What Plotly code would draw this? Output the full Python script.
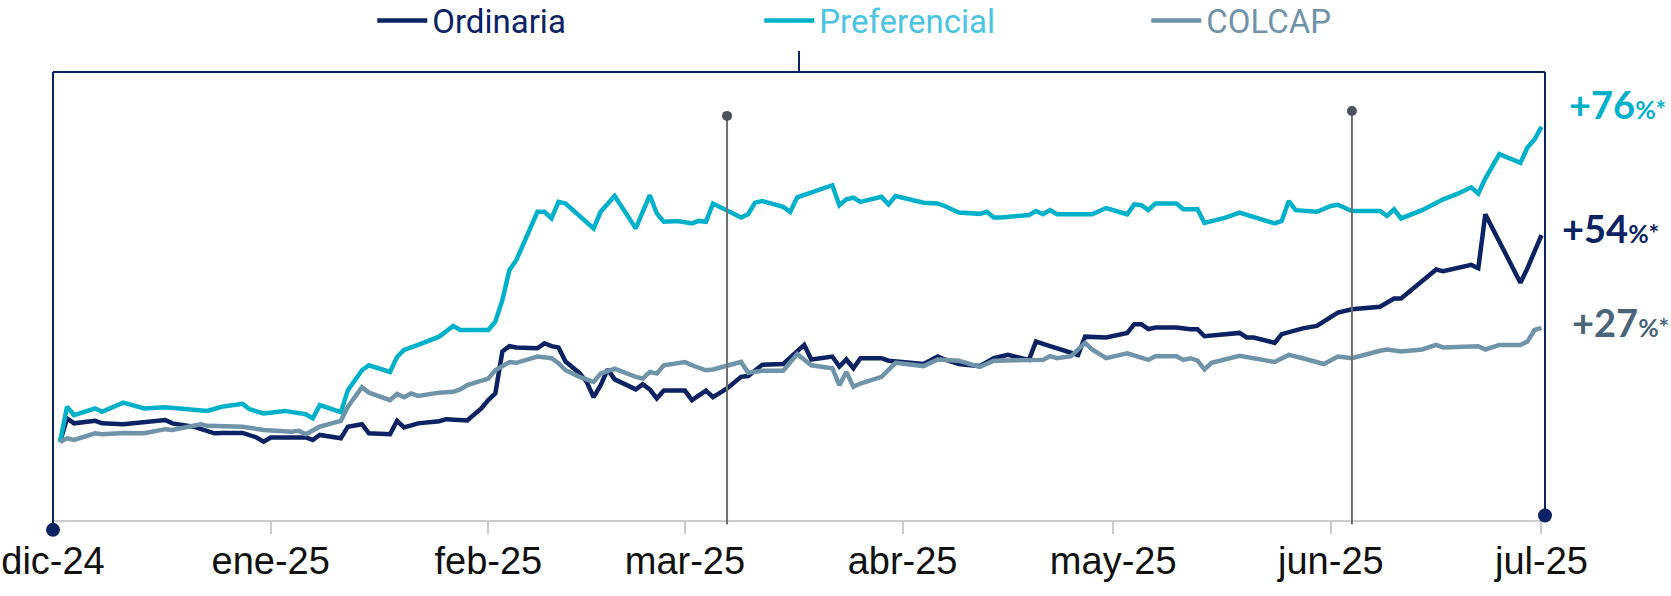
import plotly.graph_objects as go

# --- data (percent change since start) ---
pref_dates = [
    "2024-12-02", "2024-12-03", "2024-12-04", "2024-12-07", "2024-12-08", "2024-12-11", "2024-12-14",
    "2024-12-17", "2024-12-23", "2024-12-25", "2024-12-28", "2024-12-29", "2024-12-31",
    "2025-01-03", "2025-01-06", "2025-01-07", "2025-01-08", "2025-01-11", "2025-01-12", "2025-01-14",
    "2025-01-15", "2025-01-18", "2025-01-19", "2025-01-20", "2025-01-22", "2025-01-25", "2025-01-27",
    "2025-01-28",
    "2025-02-01", "2025-02-02", "2025-02-03", "2025-02-04", "2025-02-05", "2025-02-08", "2025-02-09",
    "2025-02-10", "2025-02-11", "2025-02-12", "2025-02-16", "2025-02-17", "2025-02-19", "2025-02-22",
    "2025-02-24", "2025-02-25", "2025-02-26", "2025-02-28",
    "2025-03-02", "2025-03-03", "2025-03-04", "2025-03-05", "2025-03-09", "2025-03-10", "2025-03-11",
    "2025-03-12", "2025-03-15", "2025-03-16", "2025-03-17", "2025-03-22", "2025-03-23", "2025-03-24",
    "2025-03-25", "2025-03-26", "2025-03-29", "2025-03-30", "2025-03-31",
    "2025-04-04", "2025-04-06", "2025-04-07", "2025-04-09", "2025-04-12", "2025-04-13", "2025-04-14",
    "2025-04-15", "2025-04-19", "2025-04-20", "2025-04-21", "2025-04-22", "2025-04-23", "2025-04-28",
    "2025-04-30",
    "2025-05-03", "2025-05-04", "2025-05-05", "2025-05-06", "2025-05-07", "2025-05-10", "2025-05-11",
    "2025-05-13", "2025-05-14", "2025-05-17", "2025-05-19", "2025-05-24", "2025-05-25", "2025-05-26",
    "2025-05-27", "2025-05-30",
    "2025-06-01", "2025-06-02", "2025-06-04", "2025-06-08", "2025-06-09", "2025-06-10", "2025-06-11",
    "2025-06-14", "2025-06-17", "2025-06-18", "2025-06-19", "2025-06-21", "2025-06-22", "2025-06-23",
    "2025-06-25", "2025-06-28", "2025-06-29", "2025-06-30",
    "2025-07-01",
]
pref_vals = [
    0, 8.5, 6.5, 8.1, 7.3, 9.5, 8.1, 8.4, 7.5, 8.5, 9.2, 7.9, 6.9,
    7.5, 6.7, 5.7, 8.9, 7.2, 12.5, 17.3, 18.5, 16.9, 20.5, 22.2, 23.4, 25.4, 28, 27,
    27, 29, 34.2, 41.4, 43.9, 55.5, 55.5, 53.9, 57.9, 57.5, 51.5, 55.5, 59.3, 51.5, 59.5, 55.1, 53.1, 53.3,
    52.7, 53.3, 53.1, 57.5, 54.1, 54.9, 57.7, 58.1, 56.7, 55.5, 59, 61.9, 57.1, 58.5, 58.9, 57.9, 59.1, 57.3, 59.3,
    57.7, 57.5, 56.9, 55.3, 55, 55.5, 54.1, 54.1, 54.7, 55.7, 54.9, 55.9, 54.9, 54.9, 56.4,
    54.9, 57.3, 57.1, 55.9, 57.5, 57.5, 56.1, 56.1, 52.8, 54.1, 55.3, 52.7, 53.3, 58.1, 55.9, 55.5,
    56.9, 57.2, 55.7, 55.7, 54.5, 56.1, 53.9, 55.9, 58.5, 59.1, 59.8, 61.4, 59.9, 63.5, 69.4, 67.3, 71, 72.9,
    76,
]

ord_dates = [
    "2024-12-02", "2024-12-03", "2024-12-04", "2024-12-07", "2024-12-08", "2024-12-11", "2024-12-17",
    "2024-12-18", "2024-12-21", "2024-12-23", "2024-12-24", "2024-12-25", "2024-12-28", "2024-12-30",
    "2024-12-31",
    "2025-01-01", "2025-01-06", "2025-01-07", "2025-01-08", "2025-01-11", "2025-01-12", "2025-01-14",
    "2025-01-15", "2025-01-18", "2025-01-19", "2025-01-20", "2025-01-22", "2025-01-25", "2025-01-26",
    "2025-01-29", "2025-01-31",
    "2025-02-01", "2025-02-02", "2025-02-03", "2025-02-04", "2025-02-05", "2025-02-08", "2025-02-09",
    "2025-02-10", "2025-02-11", "2025-02-12", "2025-02-14", "2025-02-15", "2025-02-16", "2025-02-17",
    "2025-02-18", "2025-02-19", "2025-02-22", "2025-02-23", "2025-02-24", "2025-02-25", "2025-02-26",
    "2025-03-01", "2025-03-02", "2025-03-04", "2025-03-05", "2025-03-07", "2025-03-09", "2025-03-10",
    "2025-03-12", "2025-03-15", "2025-03-18", "2025-03-19", "2025-03-22", "2025-03-23", "2025-03-24",
    "2025-03-25", "2025-03-26", "2025-03-29", "2025-03-30",
    "2025-04-04", "2025-04-06", "2025-04-07", "2025-04-09", "2025-04-12", "2025-04-14", "2025-04-16",
    "2025-04-19", "2025-04-20", "2025-04-22", "2025-04-23", "2025-04-26", "2025-04-27", "2025-04-30",
    "2025-05-03", "2025-05-04", "2025-05-05", "2025-05-06", "2025-05-07", "2025-05-10", "2025-05-12",
    "2025-05-13", "2025-05-14", "2025-05-17", "2025-05-19", "2025-05-20", "2025-05-21", "2025-05-24",
    "2025-05-25", "2025-05-28", "2025-05-30",
    "2025-06-02", "2025-06-04", "2025-06-08", "2025-06-10", "2025-06-11", "2025-06-14", "2025-06-16",
    "2025-06-17", "2025-06-21", "2025-06-22", "2025-06-23", "2025-06-28", "2025-06-29",
    "2025-07-01",
]
ord_vals = [
    0, 5.7, 4.5, 5.1, 4.5, 4.3, 5.3, 4.5, 3.7, 2.5, 2.1, 2.2, 2.2, 1.1, 0.1,
    1.1, 1.1, 0.5, 1.7, 0.9, 3.7, 4.3, 2.1, 1.9, 5.1, 3.5, 4.5, 5.0, 5.5, 5.2, 8.1,
    10.1, 11.7, 21.8, 23.1, 22.8, 22.6, 23.8, 23.1, 22.8, 19.4, 16.6, 14.5, 10.8, 13.7, 17.5, 15.1,
    12.7, 13.9, 12.7, 10.5, 12.4,
    12.4, 10.1, 12.4, 10.8, 12.9, 15.7, 15.9, 18.6, 18.8, 23.4, 19.9, 20.6, 18.2, 19.9, 17.8, 20.2, 20.2, 19.6,
    18.8, 20.6, 19.9, 18.8, 18.3, 20.2, 21.0, 19.8, 24.2, 23.1, 22.6, 21.0, 25.4, 25.2,
    26.3, 28.4, 28.4, 27.2, 27.6, 27.6, 27.2, 27.2, 25.5, 26.0, 26.3, 25.2, 25.2, 23.9, 26.0, 27.4, 28.0,
    31.2, 32.0, 32.6, 34.6, 34.6, 39.0, 41.6, 41.2, 42.7, 41.9, 54.9, 38.4, 41.9,
    49.9,
]

colcap_dates = [
    "2024-12-02", "2024-12-03", "2024-12-04", "2024-12-07", "2024-12-08", "2024-12-11", "2024-12-14",
    "2024-12-17", "2024-12-18", "2024-12-22", "2024-12-23", "2024-12-28", "2024-12-31",
    "2025-01-04", "2025-01-05", "2025-01-06", "2025-01-08", "2025-01-11", "2025-01-12", "2025-01-14",
    "2025-01-15", "2025-01-18", "2025-01-19", "2025-01-20", "2025-01-21", "2025-01-22", "2025-01-25",
    "2025-01-27", "2025-01-28", "2025-01-29",
    "2025-02-01", "2025-02-02", "2025-02-04", "2025-02-05", "2025-02-08", "2025-02-10", "2025-02-11",
    "2025-02-12", "2025-02-14", "2025-02-16", "2025-02-17", "2025-02-19", "2025-02-22", "2025-02-23",
    "2025-02-24", "2025-02-25", "2025-02-26",
    "2025-03-01", "2025-03-02", "2025-03-04", "2025-03-05", "2025-03-07", "2025-03-09", "2025-03-10",
    "2025-03-12", "2025-03-15", "2025-03-17", "2025-03-19", "2025-03-22", "2025-03-23", "2025-03-24",
    "2025-03-25", "2025-03-26", "2025-03-29", "2025-03-31",
    "2025-04-04", "2025-04-06", "2025-04-09", "2025-04-12", "2025-04-14", "2025-04-19", "2025-04-21",
    "2025-04-22", "2025-04-23", "2025-04-25", "2025-04-27", "2025-04-28", "2025-04-30",
    "2025-05-03", "2025-05-06", "2025-05-07", "2025-05-10", "2025-05-11", "2025-05-12", "2025-05-13",
    "2025-05-14", "2025-05-15", "2025-05-19", "2025-05-24", "2025-05-26", "2025-05-28", "2025-05-31",
    "2025-06-02", "2025-06-04", "2025-06-08", "2025-06-09", "2025-06-11", "2025-06-14", "2025-06-16",
    "2025-06-17", "2025-06-22", "2025-06-23", "2025-06-25", "2025-06-28", "2025-06-29", "2025-06-30",
    "2025-07-01",
]
colcap_vals = [
    0, 0.9, 0.5, 2.1, 1.9, 2.2, 2.1, 3.1, 2.9, 4.3, 3.9, 3.7, 2.9,
    2.5, 2.7, 1.9, 3.7, 5.1, 8.5, 13.2, 11.9, 10.1, 11.6, 10.8, 11.7, 11.1, 11.9, 12.1, 12.7, 13.7,
    15.3, 17.3, 19.3, 19.1, 20.6, 20.2, 19.0, 17.3, 15.7, 14.5, 16.5, 17.7, 15.7, 15.3, 16.9, 16.5, 18.5,
    19.3, 18.5, 17.3, 17.5, 18.5, 19.3, 16.7, 17.2, 17.2, 21.2, 18.5, 17.8, 13.7, 16.9, 13.3, 14.1, 15.7, 19.1,
    18.3, 19.9, 19.6, 18.1, 19.6, 19.8, 19.8, 20.7, 20.2, 20.7, 23.9, 22.3, 20.2,
    21.4, 19.8, 20.7, 20.7, 19.8, 20.2, 19.6, 17.5, 19.1, 20.8, 19.3, 21.0, 20.2, 18.8,
    20.6, 20.2, 22.0, 22.3, 21.8, 22.3, 23.4, 22.8, 23.1, 22.3, 23.4, 23.4, 24.2, 27.0,
    27.5,
]

tick_dates = ["2024-12-01", "2025-01-01", "2025-02-01", "2025-03-01", "2025-04-01",
              "2025-05-01", "2025-06-01", "2025-07-01"]
tick_labels = ["dic-24", "ene-25", "feb-25", "mar-25", "abr-25", "may-25", "jun-25", "jul-25"]

event_dates = ["2025-03-07", "2025-06-04"]
end_labels = ["+76", "+54", "+27"]

NAVY = "#0b2263"
CYAN = "#00b1c9"
GREY = "#6f93a8"

fig = go.Figure()
fig.add_trace(go.Scatter(x=ord_dates, y=ord_vals, mode="lines",
                         name=f"<span style='color:{NAVY}'>Ordinaria</span>",
                         line=dict(color=NAVY, width=4.5)))
fig.add_trace(go.Scatter(x=pref_dates, y=pref_vals, mode="lines",
                         name="<span style='color:#4cc4e2'>Preferencial</span>",
                         line=dict(color=CYAN, width=4.5)))
fig.add_trace(go.Scatter(x=colcap_dates, y=colcap_vals, mode="lines",
                         name=f"<span style='color:{GREY}'>COLCAP</span>",
                         line=dict(color=GREY, width=4.5)))

# frame around the chart
frame = dict(color=NAVY, width=2)
fig.add_shape(type="line", xref="paper", yref="paper", x0=0, x1=0, y0=-0.022, y1=1.0, line=frame)
fig.add_shape(type="line", xref="paper", yref="paper", x0=0, x1=1.0, y0=1.0, y1=1.0, line=frame)
fig.add_shape(type="line", xref="paper", yref="paper", x0=1.0, x1=1.0, y0=0.01, y1=1.0, line=frame)
fig.add_shape(type="line", xref="paper", yref="paper", x0=0.5, x1=0.5, y0=1.0, y1=1.047, line=frame)
for xa, ya in [(0, -0.022), (1.0, 0.01)]:
    fig.add_shape(type="circle", xref="paper", yref="paper", xsizemode="pixel", ysizemode="pixel",
                  xanchor=xa, yanchor=ya, x0=-7, x1=7, y0=-7, y1=7,
                  fillcolor=NAVY, line=dict(color=NAVY, width=0))

# event markers
for d, top in zip(event_dates, [0.902, 0.913]):
    fig.add_shape(type="line", xref="x", yref="paper", x0=d, x1=d, y0=-0.01, y1=top,
                  line=dict(color="#707070", width=2))
    fig.add_shape(type="circle", xref="x", yref="paper", xsizemode="pixel", ysizemode="pixel",
                  xanchor=d, yanchor=top, x0=-5, x1=5, y0=-5, y1=5,
                  fillcolor="#4d5258", line=dict(width=0))

# end-of-series labels
label_cols = [CYAN, NAVY, "#4a6478"]
label_y = [0.929, 0.652, 0.442]
label_x = [1.015, 1.01, 1.017]
for txt, col, yy, xx in zip(end_labels, label_cols, label_y, label_x):
    fig.add_annotation(xref="paper", yref="paper", x=xx, y=yy, xanchor="left", yanchor="middle",
                       text=f"<b>{txt}<span style='font-size:25px'>%*</span></b>",
                       showarrow=False, font=dict(family="Lato", size=38, color=col))

fig.update_layout(
    width=1671, height=596,
    margin=dict(l=53, r=126, t=72, b=76, autoexpand=False),
    plot_bgcolor="white", paper_bgcolor="white",
    showlegend=True,
    legend=dict(orientation="h", x=0.214, xanchor="left", y=1.115, yanchor="middle",
                font=dict(family="Roboto", size=33), itemwidth=50,
                entrywidth=322, entrywidthmode="pixels",
                bgcolor="rgba(0,0,0,0)"),
    xaxis=dict(type="date", range=["2024-12-01", "2025-07-01 12:00"],
               tickvals=tick_dates, ticktext=tick_labels,
               showline=True, linecolor="#cccccc", linewidth=2,
               ticks="outside", ticklen=12, tickwidth=2, tickcolor="#cccccc",
               showgrid=False, zeroline=False, ticklabelstandoff=-6,
               tickfont=dict(family="Liberation Sans", size=38, color="#111111")),
    yaxis=dict(range=[-18.8, 89.2], visible=False, showgrid=False, zeroline=False),
)

# the default page adds an 8px body margin; drop it so the figure fills the window
fig.write_html("out.html", config={"displayModeBar": False},
               post_script="document.body.style.margin='0px';")
